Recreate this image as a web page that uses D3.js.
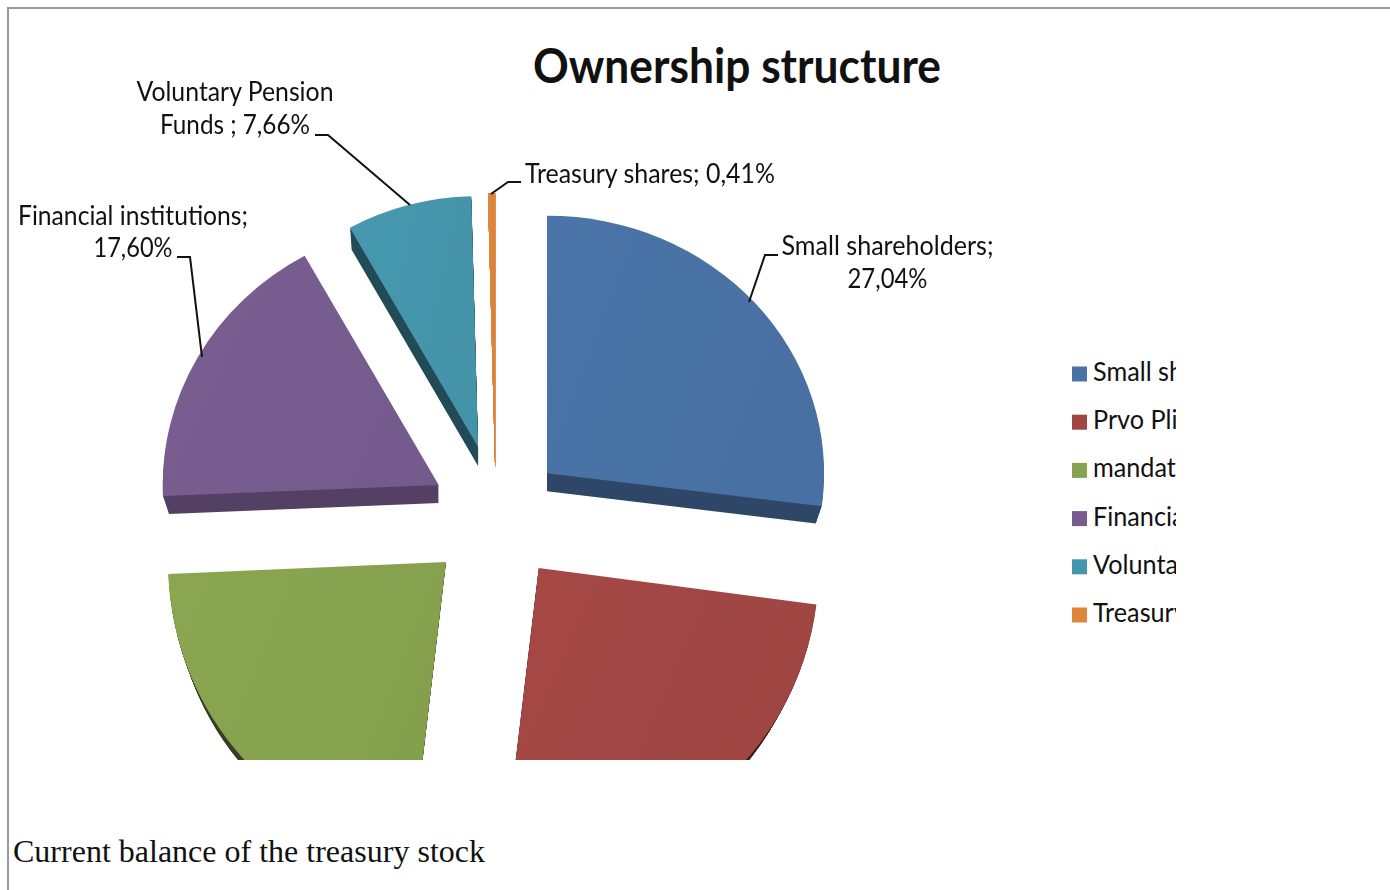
<!DOCTYPE html>
<html>
<head>
<meta charset="utf-8">
<script src="https://cdn.jsdelivr.net/npm/d3@7"></script>
<style>
  html, body { margin: 0; background: #fff; overflow: hidden; }
  text { font-family: Lato, "Open Sans", sans-serif; fill: #111; }
</style>
</head>
<body>
<script>
const categories = ["Small shareholders", "Prvo Pli", "mandat", "Financial institutions", "Voluntary Pension Funds", "Treasury shares"];
const shares = [27.04, 24.9, 22.39, 17.60, 7.66, 0.41];
const colors = ["#4a72a5", "#a24644", "#88a350", "#785c90", "#4596ad", "#dd853c"];

// value labels as they are broken over lines in the picture
const labelLines = [
  ["Small shareholders;", "27,04%"],
  [],
  [],
  ["Financial institutions;", "17,60%"],
  ["Voluntary Pension", "Funds ; 7,66%"],
  ["Treasury shares; 0,41%"]
];

const width = 1390, height = 890;
const cx = 496, cy = 517, explode = 68, tilt = 0.93;

// the 3d perspective makes each slice a bit different: radius, vertical squash, nudge
const shapes = [
  { r: 277, k: 0.93, dx: 0, dy: -2 },
  { r: 280, k: 1.02, dx: 1, dy: 1 },
  { r: 278, k: 1.034, dx: 0, dy: 2 },
  { r: 276, k: 0.95, dx: 2, dy: -1 },
  { r: 264, k: 0.95, dx: 0, dy: -9 },
  { r: 277, k: 0.99, dx: 0, dy: 14 }
];

// extrusion of each slice: depth, how far the side sits inside the rim, sideways shift, darkening
const sides = [
  { depth: 18, inset: 6, dx: 0, dark: 1.3 },
  { depth: 18, inset: 9, dx: 0, dark: 2.6 },
  { depth: 18, inset: 9, dx: -3, dark: 2.6 },
  { depth: 18, inset: 6, dx: 0, dark: 1.0 },
  { depth: 19, inset: 3, dx: 0, dark: 1.9 },
  { depth: 0, inset: 0, dx: 0, dark: 0 }
];

// label placement: centre x, baseline of each line, width of each line
const labelPos = [
  { x: 887.5, y: [255, 288], w: [212, 80] },
  null,
  null,
  { x: 133, y: [225, 257], w: [230, 79] },
  { x: 235, y: [101, 134], w: [197, 150] },
  { x: 650, y: [183], w: [250] }
];

// leader line points for the labelled slices
const leaders = [
  [[749, 302], [765, 255], [778, 255]],
  null,
  null,
  [[202, 357], [190, 257], [177, 257]],
  [[410, 205], [328, 135], [315, 135]],
  [[491, 194], [508, 182], [521, 182]]
];

const svg = d3.select("body").append("svg")
  .attr("width", width)
  .attr("height", height);

const defs = svg.append("defs");

defs.append("clipPath").attr("id", "chart-clip")
  .append("rect").attr("x", 0).attr("y", 0).attr("width", width).attr("height", 760);
defs.append("clipPath").attr("id", "legend-clip")
  .append("rect").attr("x", 1060).attr("y", 340).attr("width", 116).attr("height", 300);
defs.append("filter").attr("id", "soft")
  .append("feGaussianBlur").attr("stdDeviation", 0.7);

colors.forEach((c, i) => {
  const g = defs.append("linearGradient").attr("id", "face" + i)
    .attr("x1", 0).attr("y1", 0).attr("x2", 1).attr("y2", 0.4);
  g.append("stop").attr("offset", 0).attr("stop-color", d3.color(c).brighter(0.05));
  g.append("stop").attr("offset", 1).attr("stop-color", d3.color(c).darker(0.06));
});

// page frame
svg.append("path")
  .attr("d", d3.line()([[width, 8], [8, 8], [8, height]]))
  .attr("fill", "none")
  .attr("stroke", "#999")
  .attr("stroke-width", 2);

svg.append("text")
  .attr("x", 737).attr("y", 83)
  .attr("text-anchor", "middle")
  .attr("font-size", 48).attr("font-weight", 700)
  .attr("textLength", 408).attr("lengthAdjust", "spacingAndGlyphs")
  .text("Ownership structure");

const pie = d3.pie().sort(null).startAngle(0).endAngle(2 * Math.PI);
const slices = pie(shares);
const mid = d => (d.startAngle + d.endAngle) / 2;

const pieG = svg.append("g")
  .attr("clip-path", "url(#chart-clip)")
  .append("g")
  .attr("filter", "url(#soft)");

const sliceAt = (d, i, dx, dy) => {
  const x = cx + explode * Math.sin(mid(d)) + shapes[i].dx + dx;
  const y = cy - explode * Math.cos(mid(d)) * tilt + shapes[i].dy + dy;
  return `translate(${x},${y}) scale(1,${shapes[i].k})`;
};

// sides first so the faces cover them, swept in steps from the face down to full depth
const sweep = d3.range(1, 0, -1 / 18);

slices.forEach((d, i) => {
  pieG.selectAll(null)
    .data(sweep)
    .join("path")
    .attr("transform", t => sliceAt(d, i, sides[i].dx * t, sides[i].depth * t))
    .attr("d", t => d3.arc().innerRadius(0).outerRadius(shapes[i].r - sides[i].inset * t)(d))
    .attr("fill", d3.color(colors[i]).darker(sides[i].dark));
});

pieG.selectAll("path.face")
  .data(slices)
  .join("path")
  .attr("class", "face")
  .attr("transform", (d, i) => sliceAt(d, i, 0, 0))
  .attr("d", (d, i) => d3.arc().innerRadius(0).outerRadius(shapes[i].r)(d))
  .attr("fill", (d, i) => `url(#face${i})`);

// leaders
svg.selectAll("path.leader")
  .data(leaders.filter(Boolean))
  .join("path")
  .attr("class", "leader")
  .attr("d", d3.line())
  .attr("fill", "none")
  .attr("stroke", "#111")
  .attr("stroke-width", 2);

// value labels
labelLines.forEach((lines, i) => {
  lines.forEach((line, j) => {
    svg.append("text")
      .attr("x", labelPos[i].x)
      .attr("y", labelPos[i].y[j])
      .attr("text-anchor", "middle")
      .attr("font-size", 26)
      .attr("textLength", labelPos[i].w[j])
      .attr("lengthAdjust", "spacingAndGlyphs")
      .text(line);
  });
});

// legend, cut off on the right as in the picture
const legendY = d3.scalePoint().domain(categories).range([374, 615]);
const legend = svg.append("g").attr("clip-path", "url(#legend-clip)");

legend.selectAll("rect")
  .data(categories)
  .join("rect")
  .attr("x", 1072)
  .attr("y", d => legendY(d) - 7.5)
  .attr("width", 15)
  .attr("height", 15)
  .attr("fill", (d, i) => colors[i]);

legend.selectAll("text")
  .data(categories)
  .join("text")
  .attr("x", 0)
  .attr("y", d => legendY(d) + 7)
  .attr("font-size", 26)
  .attr("transform", "translate(1093,0) scale(0.97,1)")
  .text(d => d);

svg.append("text")
  .attr("x", 13).attr("y", 862)
  .attr("font-size", 32)
  .style("font-family", "'Liberation Serif', serif")
  .attr("textLength", 472)
  .attr("lengthAdjust", "spacingAndGlyphs")
  .text("Current balance of the treasury stock");
</script>
</body>
</html>
